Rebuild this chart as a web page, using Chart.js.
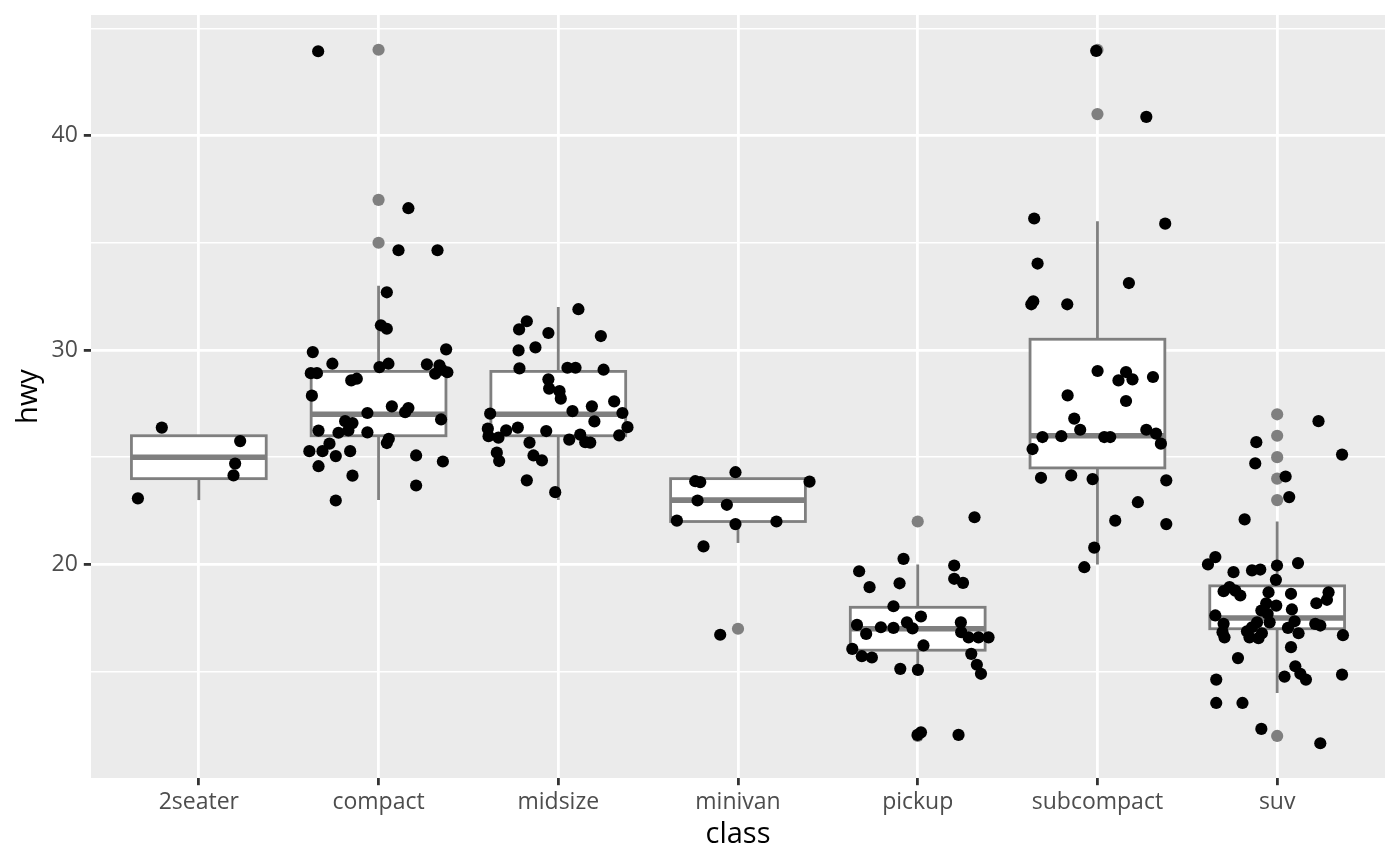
<!DOCTYPE html>
<html><head><meta charset="utf-8">
<script src="https://cdn.jsdelivr.net/npm/chart.js@4"></script>
<style>html,body{margin:0;padding:0;background:#fff}#wrap{width:1400px;height:866px}</style>
</head><body><div id="wrap"><canvas id="c" width="1400" height="866"></canvas></div>
<script>
const categories = ['2seater','compact','midsize','minivan','pickup','subcompact','suv'];
const boxQ1     = [24, 26, 26, 22, 16, 24.5, 17];
const boxMedian = [25, 27, 27, 23, 17, 26, 17.5];
const boxQ3     = [26, 29, 29, 24, 18, 30.5, 19];
const whiskerLow  = [23, 23, 23, 21, 15, 20, 14];
const whiskerHigh = [26, 33, 32, 24, 20, 36, 22];
const outliers = [[], [35, 37, 44], [], [17], [12, 22], [41, 44], [12, 23, 24, 25, 26, 27]];
const yTicks = [15, 20, 25, 30, 35, 40, 45];

// jittered points: [offset from class centre, hwy]
const jitter2seater = [[-0.206,26.38],[0.230,25.75],[0.202,24.70],[0.193,24.15],[-0.339,23.08]];
const jitterCompact = [[-0.336,43.93],[0.166,36.61],[0.111,34.65],[0.328,34.65],[0.046,32.69],[0.013,31.15],[0.046,30.99],[-0.366,29.90],[0.376,30.03],[-0.257,29.36],[0.005,29.20],[0.055,29.36],[0.269,29.33],[0.339,29.28],[-0.377,28.92],[-0.343,28.92],[0.315,28.89],[0.352,29.08],[0.383,28.96],[-0.152,28.58],[-0.121,28.66],[-0.371,27.87],[0.074,27.37],[0.148,27.10],[0.166,27.29],[-0.062,27.06],[0.348,26.76],[-0.186,26.68],[-0.145,26.59],[-0.168,26.25],[-0.334,26.24],[-0.223,26.14],[-0.062,26.16],[0.057,25.86],[0.046,25.66],[-0.273,25.63],[-0.385,25.28],[-0.312,25.28],[-0.238,25.05],[-0.158,25.28],[0.209,25.08],[0.358,24.80],[-0.334,24.58],[-0.145,24.14],[0.209,23.68],[-0.238,22.98]];
const jitterMidsize = [[0.112,31.90],[-0.175,31.34],[-0.218,30.96],[-0.055,30.79],[0.237,30.65],[-0.221,29.98],[-0.127,30.12],[-0.216,29.14],[0.051,29.17],[0.096,29.17],[0.252,29.08],[-0.055,28.63],[-0.051,28.20],[0.007,28.08],[0.014,27.73],[0.311,27.60],[0.187,27.37],[0.079,27.15],[-0.379,27.03],[0.357,27.06],[0.201,26.67],[-0.392,26.33],[-0.388,25.98],[-0.333,25.91],[-0.290,26.25],[-0.225,26.38],[-0.067,26.22],[0.385,26.40],[0.339,26.02],[0.061,25.82],[0.122,26.05],[0.150,25.70],[0.178,25.68],[-0.160,25.68],[-0.342,25.21],[-0.329,24.82],[-0.138,25.08],[-0.091,24.85],[-0.175,23.92],[-0.017,23.37]];
const jitterMinivan = [[-0.014,24.30],[-0.238,23.88],[-0.210,23.84],[0.398,23.86],[-0.225,22.98],[-0.062,22.78],[-0.340,22.04],[-0.014,21.88],[0.214,22.00],[-0.192,20.84],[-0.099,16.72]];
const jitterPickup = [[0.316,22.20],[-0.079,20.26],[-0.326,19.68],[0.203,19.95],[0.203,19.33],[0.252,19.14],[-0.268,18.94],[-0.101,19.12],[-0.135,18.05],[0.018,17.57],[-0.338,17.18],[-0.287,16.76],[-0.205,17.07],[-0.135,17.04],[-0.060,17.30],[-0.029,17.02],[0.240,17.30],[0.242,16.84],[0.283,16.60],[0.338,16.60],[0.394,16.60],[-0.364,16.06],[-0.311,15.72],[-0.255,15.66],[0.032,16.22],[0.298,15.83],[0.329,15.32],[0.352,14.90],[-0.097,15.13],[0.001,15.08],[-0.001,12.05],[0.018,12.17],[0.227,12.05]];
const jitterSubcompact = [[-0.007,43.95],[0.272,40.87],[-0.352,36.13],[0.377,35.89],[-0.333,34.03],[0.175,33.12],[-0.368,32.13],[-0.357,32.27],[-0.168,32.13],[0.001,29.02],[0.159,28.97],[0.117,28.58],[0.195,28.63],[0.309,28.74],[-0.166,27.88],[0.159,27.62],[-0.129,26.80],[-0.096,26.28],[-0.306,25.94],[-0.201,25.98],[0.038,25.94],[0.071,25.94],[0.272,26.28],[0.326,26.10],[0.353,25.63],[-0.361,25.38],[-0.314,24.04],[-0.146,24.15],[-0.027,23.98],[0.383,23.92],[0.225,22.90],[0.099,22.04],[0.383,21.88],[-0.018,20.78],[-0.073,19.87]];
const jitterSuv = [[0.230,26.68],[-0.116,25.70],[0.361,25.12],[-0.122,24.71],[0.047,24.10],[0.067,23.14],[-0.181,22.10],[-0.344,20.34],[-0.385,20.00],[-0.243,19.64],[-0.140,19.72],[-0.094,19.76],[-0.001,19.95],[0.116,20.06],[-0.007,19.28],[-0.298,18.75],[-0.265,18.94],[-0.233,18.78],[-0.205,18.55],[-0.048,18.70],[0.077,18.63],[0.286,18.70],[0.277,18.35],[0.218,18.19],[-0.061,18.19],[-0.005,18.08],[-0.088,17.85],[-0.053,17.70],[-0.042,17.30],[0.082,17.90],[-0.344,17.62],[-0.298,17.23],[-0.304,16.84],[-0.293,16.60],[-0.112,17.30],[-0.140,17.07],[-0.168,16.88],[-0.154,16.60],[-0.104,16.56],[-0.085,16.79],[0.097,17.35],[0.060,17.04],[0.119,16.79],[0.212,17.23],[0.240,17.15],[0.366,16.70],[0.077,16.14],[-0.218,15.63],[0.101,15.25],[0.129,14.90],[0.160,14.63],[0.041,14.77],[0.361,14.86],[-0.339,14.63],[-0.339,13.54],[-0.193,13.54],[-0.088,12.33],[0.240,11.66]];
const jitterByClass = [jitter2seater, jitterCompact, jitterMidsize, jitterMinivan, jitterPickup, jitterSubcompact, jitterSuv];

const jitterData = [];
jitterByClass.forEach((arr, i) => arr.forEach(p => jitterData.push({x: i + 1 + p[0], y: p[1]})));
const outlierData = [];
outliers.forEach((arr, i) => arr.forEach(v => outlierData.push({x: i + 1, y: v})));

const GREY = '#7F7F7F';
const BOX_HALF = 0.375;

const panelBg = {
  id: 'panelBg',
  beforeDraw(chart) {
    const a = chart.chartArea, ctx = chart.ctx;
    ctx.save(); ctx.fillStyle = '#EBEBEB';
    ctx.fillRect(a.left, a.top, a.right - a.left, a.bottom - a.top);
    ctx.restore();
  }
};
const boxes = {
  id: 'boxes',
  beforeDatasetsDraw(chart) {
    const ctx = chart.ctx, xs = chart.scales.x, ys = chart.scales.y;
    ctx.save();
    ctx.strokeStyle = GREY;
    categories.forEach((c, i) => {
      const xc = xs.getPixelForValue(i + 1);
      const xl = xs.getPixelForValue(i + 1 - BOX_HALF);
      const xr = xs.getPixelForValue(i + 1 + BOX_HALF);
      const yq1 = ys.getPixelForValue(boxQ1[i]);
      const yq3 = ys.getPixelForValue(boxQ3[i]);
      const ym = ys.getPixelForValue(boxMedian[i]);
      const ylo = ys.getPixelForValue(whiskerLow[i]);
      const yhi = ys.getPixelForValue(whiskerHigh[i]);
      ctx.lineWidth = 2.8; ctx.lineCap = 'butt';
      ctx.beginPath();
      ctx.moveTo(xc, yq3); ctx.lineTo(xc, yhi);
      ctx.moveTo(xc, yq1); ctx.lineTo(xc, ylo);
      ctx.stroke();
      ctx.fillStyle = '#FFFFFF';
      ctx.fillRect(xl, yq3, xr - xl, yq1 - yq3);
      ctx.strokeRect(xl, yq3, xr - xl, yq1 - yq3);
      ctx.lineWidth = 5.6;
      ctx.beginPath(); ctx.moveTo(xl, ym); ctx.lineTo(xr, ym); ctx.stroke();
    });
    ctx.restore();
  }
};
const noPad = s => { s.paddingTop = 0; s.paddingBottom = 0; s.paddingLeft = 0; s.paddingRight = 0; };

new Chart(document.getElementById('c'), {
  type: 'scatter',
  data: {
    datasets: [
      {label: 'hwy', data: jitterData, order: 0, backgroundColor: '#000000', borderWidth: 0, pointRadius: 6.1, pointHoverRadius: 6.1},
      {label: 'outliers', data: outlierData, order: 1, backgroundColor: GREY, borderWidth: 0, pointRadius: 6.1, pointHoverRadius: 6.1}
    ]
  },
  options: {
    responsive: false, animation: false, devicePixelRatio: 1,
    layout: {padding: {top: 15, right: 15, left: 0, bottom: 0}},
    plugins: {legend: {display: false}, tooltip: {enabled: false}},
    events: [],
    scales: {
      x: {
        type: 'linear', min: 0.4, max: 7.6,
        afterBuildTicks: s => { s.ticks = categories.map((c, i) => ({value: i + 1})); },
        afterFit: s => { s.height = 88; noPad(s); },
        border: {display: false},
        grid: {color: '#FFFFFF', lineWidth: 2.8, tickColor: '#333333', tickLength: 7.2, tickWidth: 2.8},
        ticks: {callback: (v, i) => categories[i], color: '#4D4D4D', font: {family: 'Open Sans', size: 23}, padding: 3, maxRotation: 0, autoSkip: false},
        title: {display: true, text: 'class', color: '#000000', font: {family: 'Open Sans', size: 29}, padding: {top: 0, bottom: 14}}
      },
      y: {
        type: 'linear', min: 10.04, max: 45.62,
        afterBuildTicks: s => { s.ticks = yTicks.map(v => ({value: v})); },
        afterFit: s => { s.width = 91; noPad(s); },
        border: {display: false},
        grid: {
          color: '#FFFFFF',
          lineWidth: ctx => (ctx.tick && ctx.tick.value % 10 === 0) ? 2.8 : 1.4,
          tickColor: ctx => (ctx.tick && ctx.tick.value % 10 === 0) ? '#333333' : 'rgba(0,0,0,0)',
          tickLength: 7.2, tickWidth: 2.8
        },
        ticks: {callback: v => (v % 10 === 0 ? String(v) : ''), color: '#4D4D4D', font: {family: 'Open Sans', size: 23}, padding: 6},
        title: {display: true, text: 'hwy', color: '#000000', font: {family: 'Open Sans', size: 29}, padding: {top: 11, bottom: 0}}
      }
    }
  },
  plugins: [panelBg, boxes]
});
</script></body></html>
